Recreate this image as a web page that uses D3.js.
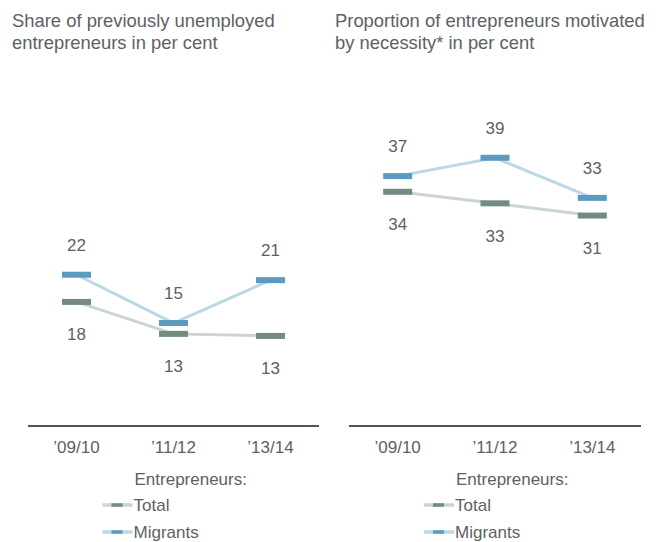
<!DOCTYPE html>
<html>
<head>
<meta charset="utf-8">
<script src="https://cdn.jsdelivr.net/npm/d3@7/dist/d3.min.js"></script>
<style>
  html, body { margin: 0; padding: 0; background: #ffffff; }
  svg { display: block; font-family: "Liberation Sans", Arial, Helvetica, sans-serif; }
</style>
</head>
<body>
<svg id="chart" width="665" height="542"></svg>
<script>
// Survey periods shown on the x axis
const periods = ["'09/10", "'11/12", "'13/14"];

// Panel 1: share of previously unemployed entrepreneurs (%)
const unemployedTotal    = [18.1, 13.4, 13.1];
const unemployedMigrants = [22.1, 15.0, 21.3];

// Panel 2: entrepreneurs motivated by necessity (%)
const necessityTotal    = [34.3, 32.6, 30.8];
const necessityMigrants = [36.6, 39.3, 33.4];

const panelTitles = [
  ["Share of previously unemployed", "entrepreneurs in per cent"],
  ["Proportion of entrepreneurs motivated", "by necessity* in per cent"]
];

const seriesNames = ["Total", "Migrants"];
const legendTitle = "Entrepreneurs:";

const colors = {
  Total:    { mark: "#738b80", line: "#c9d5cf" },
  Migrants: { mark: "#5b9bbf", line: "#bad8e7" }
};
const textColor = "#5d6166";

const panels = [
  { title: panelTitles[0], total: unemployedTotal, migrants: unemployedMigrants, x0: 28, x1: 319, titleX: 12 },
  { title: panelTitles[1], total: necessityTotal,  migrants: necessityMigrants,  x0: 349, x1: 641, titleX: 335 }
];

const svg = d3.select("#chart");
const fmt = d3.format(".0f");

// Shared vertical scale: zero sits on the baseline rule
const y = d3.scaleLinear().domain([0, 50]).range([425, 85]);

panels.forEach(p => {
  const g = svg.append("g");

  // Title (two lines)
  g.append("text")
    .attr("x", p.titleX).attr("y", 27)
    .attr("fill", textColor).attr("font-size", "18.4px")
    .selectAll("tspan").data(p.title).join("tspan")
    .attr("x", p.titleX).attr("dy", (d, i) => i === 0 ? 0 : 22)
    .text(d => d);

  const x = d3.scaleBand().domain(periods).range([p.x0, p.x1]);
  const cx = d => x(d) + x.bandwidth() / 2;

  // Category axis: a single rule with labels beneath, no ticks
  const axis = d3.axisBottom(x).tickSize(0).tickPadding(15);
  const ax = g.append("g").attr("transform", "translate(0,426)").call(axis);
  ax.select(".domain").attr("stroke", "#51565c").attr("stroke-width", 2).attr("d", `M${p.x0},0H${p.x1}`);
  ax.selectAll("text")
    .attr("fill", textColor).attr("font-size", "17px")
    .attr("font-family", "\"Liberation Sans\", Arial, sans-serif")
    .text(d => d.replace(/'/g, "\u2019"));

  const series = [
    { name: "Total", values: p.total },
    { name: "Migrants", values: p.migrants }
  ];

  const line = d3.line().x((d, i) => cx(periods[i])).y(d => y(d));

  // Connecting lines first, markers on top
  series.forEach(s => {
    g.append("path")
      .datum(s.values)
      .attr("d", line)
      .attr("fill", "none")
      .attr("stroke", colors[s.name].line)
      .attr("stroke-width", 3);
  });

  series.forEach(s => {
    g.selectAll(null).data(s.values).join("rect")
      .attr("x", (d, i) => cx(periods[i]) - 14.5)
      .attr("y", d => y(d) - 3)
      .attr("width", 29)
      .attr("height", 6)
      .attr("fill", colors[s.name].mark);

    g.selectAll(null).data(s.values).join("text")
      .attr("x", (d, i) => cx(periods[i]))
      .attr("y", d => s.name === "Migrants" ? y(d) - 24 : y(d) + 38.5)
      .attr("text-anchor", "middle")
      .attr("fill", textColor)
      .attr("font-size", "17px")
      .text(d => fmt(d));
  });

  // Legend, placed under the middle period
  const lx = (p.x0 + p.x1) / 2 - 71;
  const lg = g.append("g");
  lg.append("text")
    .attr("x", lx + 32).attr("y", 484.5)
    .attr("fill", textColor).attr("font-size", "17px")
    .text(legendTitle);

  seriesNames.forEach((name, i) => {
    const ly = 505 + i * 27;
    lg.append("line")
      .attr("x1", lx).attr("x2", lx + 30)
      .attr("y1", ly).attr("y2", ly)
      .attr("stroke", colors[name].line).attr("stroke-width", 3.5);
    lg.append("rect")
      .attr("x", lx + 9).attr("y", ly - 1.75)
      .attr("width", 11).attr("height", 3.5)
      .attr("fill", colors[name].mark);
    lg.append("text")
      .attr("x", lx + 31).attr("y", ly + 6)
      .attr("fill", textColor).attr("font-size", "17px")
      .text(name);
  });
});
</script>
</body>
</html>
